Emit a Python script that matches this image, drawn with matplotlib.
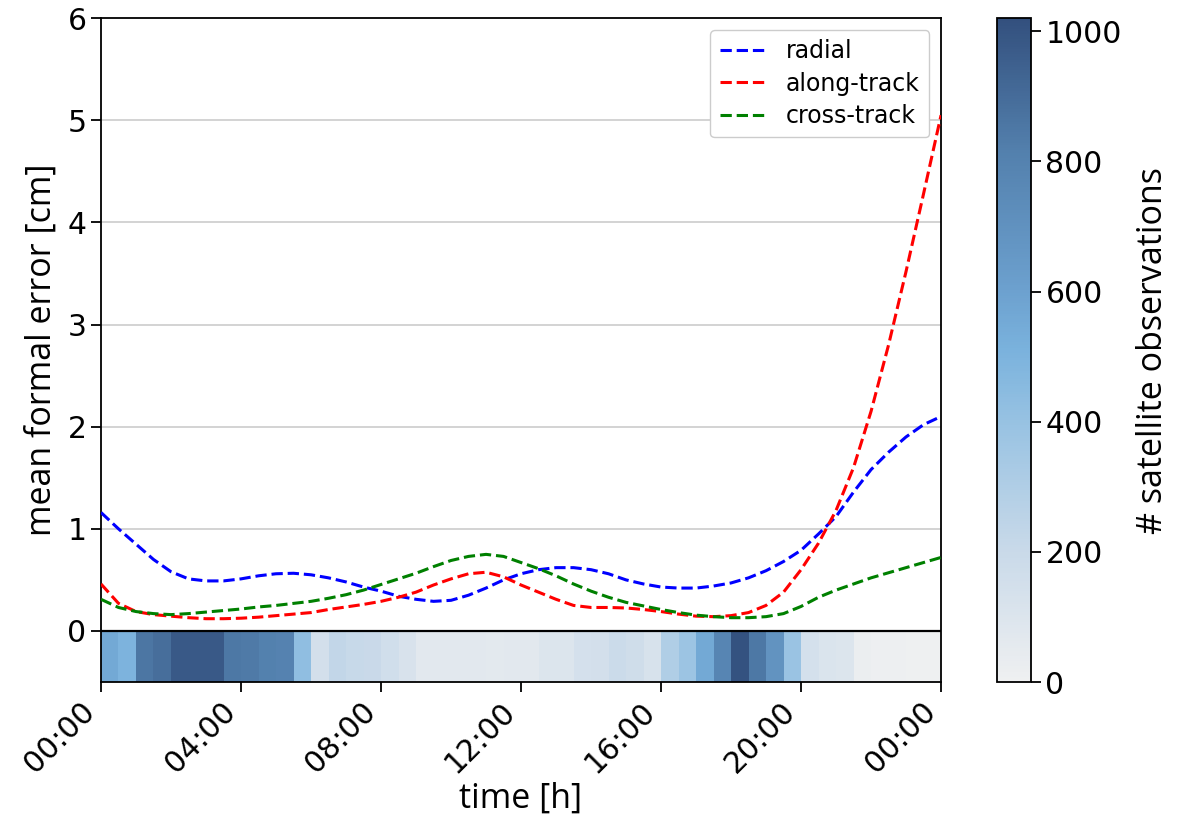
import matplotlib
matplotlib.use('Agg')
import matplotlib.pyplot as plt
import numpy as np
from matplotlib.colors import LinearSegmentedColormap

# ── Data ─────────────────────────────────────────────────────────────────────
hours = np.arange(0, 24.01, 0.5)

radial = [1.16, 1.00, 0.85, 0.70, 0.58, 0.51, 0.49, 0.49, 0.51, 0.54,
          0.56, 0.565, 0.55, 0.52, 0.48, 0.43, 0.39, 0.34, 0.31, 0.29,
          0.30, 0.35, 0.42, 0.50, 0.56, 0.60, 0.62, 0.62, 0.60, 0.56,
          0.50, 0.46, 0.43, 0.42, 0.42, 0.44, 0.47, 0.52, 0.59, 0.68,
          0.79, 0.95, 1.12, 1.36, 1.58, 1.75, 1.90, 2.02, 2.10]

along = [0.46, 0.27, 0.19, 0.16, 0.145, 0.13, 0.12, 0.12, 0.125, 0.135,
         0.15, 0.165, 0.18, 0.21, 0.235, 0.26, 0.29, 0.33, 0.38, 0.45,
         0.51, 0.56, 0.575, 0.53, 0.45, 0.38, 0.31, 0.25, 0.23, 0.23,
         0.225, 0.21, 0.19, 0.165, 0.145, 0.14, 0.15, 0.18, 0.25, 0.38,
         0.60, 0.86, 1.18, 1.60, 2.15, 2.80, 3.52, 4.28, 5.05]

cross = [0.31, 0.23, 0.19, 0.17, 0.16, 0.17, 0.185, 0.20, 0.215, 0.235,
         0.25, 0.27, 0.29, 0.32, 0.355, 0.40, 0.455, 0.51, 0.565, 0.63,
         0.69, 0.73, 0.75, 0.73, 0.67, 0.61, 0.54, 0.46, 0.39, 0.33,
         0.28, 0.245, 0.21, 0.18, 0.155, 0.14, 0.13, 0.13, 0.14, 0.17,
         0.24, 0.33, 0.40, 0.46, 0.52, 0.57, 0.62, 0.67, 0.72]

# number of satellite observations per half-hour bin
obs_edges = np.arange(0, 24.01, 0.5)
n_obs = [560, 500, 860, 890, 980, 980, 980, 850, 840, 810,
         800, 430, 150, 230, 210, 200, 160, 120, 70, 70,
         70, 70, 65, 70, 70, 100, 100, 140, 150, 190,
         170, 130, 300, 380, 560, 780, 1010, 850, 690, 390,
         140, 110, 100, 20, 15, 10, 5, 5]

tick_hours = [0, 4, 8, 12, 16, 20, 24]
tick_labels = ["00:00", "04:00", "08:00", "12:00", "16:00", "20:00", "00:00"]

# ── Colormap (light grey -> steel blue) ──────────────────────────────────────
cmap = LinearSegmentedColormap.from_list("obs", [
    (0.0, "#eff0f1"), (0.2, "#c8d9e9"), (0.4, "#95c1e2"), (0.5, "#7ab2dd"),
    (0.6, "#6b9fcd"), (0.8, "#5380ad"), (1.0, "#33507e")])
VMAX = 1020

TICK_FS = 21.5
LABEL_FS = 24.5

# ── Figure ───────────────────────────────────────────────────────────────────
fig = plt.figure(figsize=(11.84, 8.26), dpi=100)
ax = fig.add_axes([0.0853, 0.1743, 0.7095, 0.8037])
cax = fig.add_axes([0.842, 0.1743, 0.0287, 0.8037])

mesh = ax.pcolormesh(obs_edges, [-0.5, 0], np.array(n_obs)[None, :],
                     cmap=cmap, vmin=0, vmax=VMAX, zorder=1)

for y in range(1, 6):
    ax.axhline(y, color="#cccccc", lw=1.2, zorder=0)
ax.axhline(0, color="black", lw=1.6, zorder=3)

ax.plot(hours, radial, "--", color="blue", lw=2.2, label="radial", zorder=4)
ax.plot(hours, along, "--", color="red", lw=2.2, label="along-track", zorder=4)
ax.plot(hours, cross, "--", color="green", lw=2.2, label="cross-track", zorder=4)

ax.set_xlim(0, 24)
ax.set_ylim(-0.5, 6)
ax.set_yticks(range(0, 7))
ax.set_xticks(tick_hours)
ax.set_xticklabels(tick_labels, rotation=45, ha="right")
ax.tick_params(labelsize=TICK_FS, length=7, width=1.3)
for s in ax.spines.values():
    s.set_linewidth(1.3)

ax.set_xlabel("time [h]", fontsize=LABEL_FS, family="Open Sans", labelpad=2)
ax.set_ylabel("mean formal error [cm]", fontsize=LABEL_FS, family="Open Sans",
              labelpad=6)

leg = ax.legend(loc="upper right", fontsize=17, framealpha=1, borderpad=0.4,
                labelspacing=0.35)

cb = fig.colorbar(mesh, cax=cax)
cb.set_ticks([0, 200, 400, 600, 800, 1000])
cb.ax.tick_params(labelsize=TICK_FS, length=7, width=1.3)
cb.outline.set_linewidth(1.3)
cb.set_label("# satellite observations", fontsize=LABEL_FS, family="Open Sans",
             labelpad=10)

plt.savefig("out.png", dpi=100, facecolor="white")
